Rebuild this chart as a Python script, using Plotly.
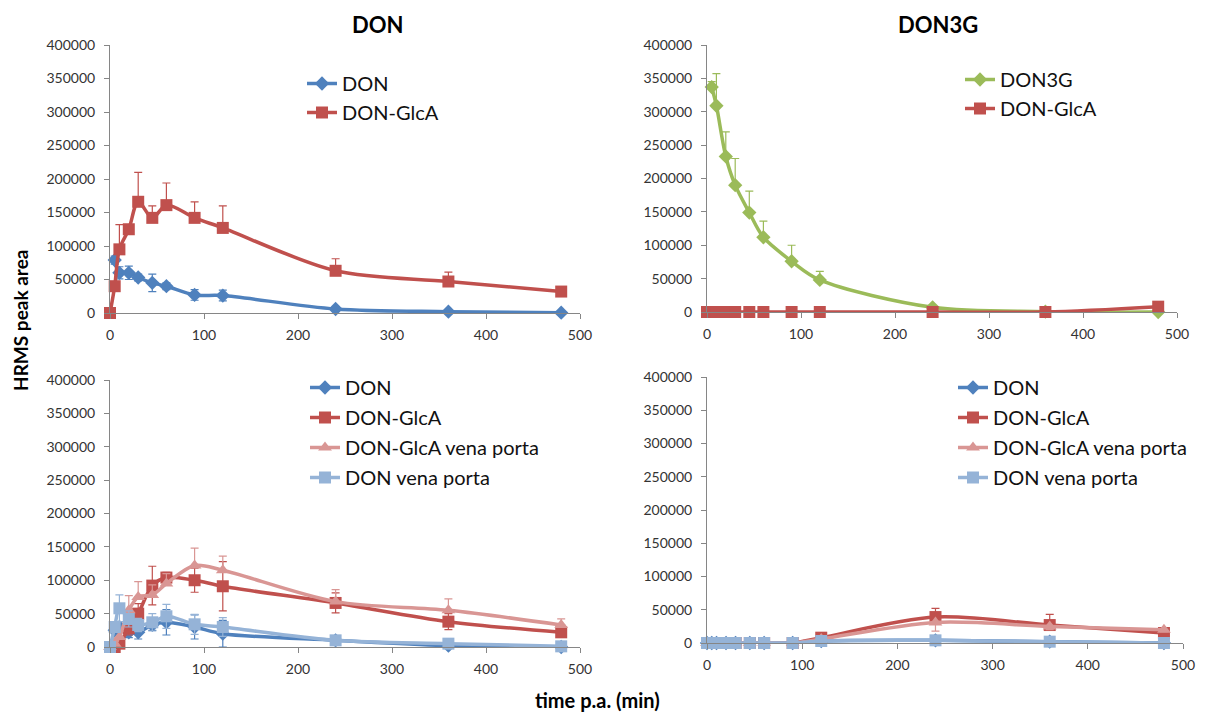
import plotly.graph_objects as go

# page is rendered with an 8px body margin; figure coordinates are offset accordingly
OFF = 8
W, H = 1209 - OFF, 713 - OFF

# ---------------- data ----------------
times = [0, 5, 10, 20, 30, 45, 60, 90, 120, 240, 360, 480]

# Panel 1: DON
don_p1 = [None, 79000, 60000, 60000, 53000, 45000, 40000, 27000, 26000, 6000, 2000, 500]
don_p1_err = [None, 6000, 9000, 10000, 5000, 13000, 5000, 8000, 8000, 2000, 1000, 500]
glca_p1 = [0, 40000, 95000, 125000, 166000, 142000, 161000, 142000, 127000, 63000, 47000, 32000]
glca_p1_err = [0, 5000, 37000, 6000, 44000, 18000, 33000, 24000, 33000, 18000, 14000, 3000]

# Panel 2: DON3G
don3g_p2 = [None, 337000, 309000, 233000, 190000, 149000, 112000, 76000, 48000, 7000, 500, 0]
don3g_p2_err = [None, 8000, 48000, 37000, 40000, 32000, 24000, 24000, 13000, 2000, 0, 0]
glca_p2 = [0, 0, 0, 0, 0, 0, 0, 0, 0, 0, 0, 8000]

# Panel 3
don_p3 = [None, 25000, 30000, 22000, 22000, 33000, 37000, 30000, 20000, 10000, 2000, 0]
don_p3_err = [None, 5000, 5000, 8000, 10000, 8000, 19000, 18000, 20000, 3000, 2000, 0]
glca_p3 = [0, 0, 5000, 28000, 50000, 92000, 104000, 100000, 91000, 66000, 38000, 22000]
glca_p3_err = [0, 0, 3000, 10000, 15000, 29000, 8000, 18000, 37000, 15000, 12000, 5000]
glcavp_p3 = [0, 5000, 15000, 55000, 75000, 78000, 95000, 122000, 115000, 68000, 55000, 33000]
glcavp_p3_err = [0, 3000, 8000, 22000, 23000, 15000, 15000, 26000, 21000, 18000, 17000, 9000]
donvp_p3 = [0, 30000, 58000, 42000, 33000, 37000, 46000, 34000, 30000, 10000, 5000, 1000]
donvp_p3_err = [0, 8000, 20000, 12000, 10000, 13000, 18000, 15000, 14000, 4000, 3000, 1000]

# Panel 4
don_p4 = [0, 0, 0, 0, 0, 0, 0, 0, 3000, 4000, 2000, 0]
glca_p4 = [0, 0, 0, 0, 0, 0, 0, 0, 8000, 39000, 27000, 15000]
glca_p4_err = [0, 0, 0, 0, 0, 0, 0, 0, 3000, 13000, 16000, 4000]
glcavp_p4 = [0, 0, 0, 0, 0, 0, 0, 0, 6000, 31000, 25000, 20000]
glcavp_p4_err = [0, 0, 0, 0, 0, 0, 0, 0, 2000, 13000, 5000, 3000]
donvp_p4 = [0, 0, 0, 0, 0, 0, 0, 0, 3000, 4000, 2000, 0]

x_ticks = [0, 100, 200, 300, 400, 500]
y_ticks = [0, 50000, 100000, 150000, 200000, 250000, 300000, 350000, 400000]

titles = ["DON", "DON3G"]
y_title = "HRMS peak area"
x_title = "time p.a. (min)"

# ---------------- styles ----------------
BLUE = "#4F81BD"
RED = "#C0504D"
GREEN = "#9BBB59"
PINK = "#D99694"
LBLUE = "#95B3D7"
FONT = "Lato"

fig = go.Figure()


def errbar(color, plus=None, minus=None):
    n = len(times)
    return dict(type="data", array=plus if plus is not None else [0] * n,
                arrayminus=minus if minus is not None else [0] * n,
                symmetric=False, color=color, thickness=1.2, width=4, visible=True)


def add(x, y, name, color, symbol, msize, xa, ya, legend, ey=None):
    fig.add_trace(go.Scatter(
        x=x, y=y, name=name, mode="lines+markers",
        line=dict(color=color, width=3.5, shape="spline", smoothing=0.9),
        marker=dict(color=color, symbol=symbol, size=msize),
        error_y=ey, xaxis=xa, yaxis=ya, legend=legend, legendgroup=legend + name,
        cliponaxis=False, connectgaps=True,
    ))


# panel 1
add(times, don_p1, "DON", BLUE, "diamond", 11, "x", "y", "legend", errbar(BLUE, don_p1_err, don_p1_err))
add(times, glca_p1, "DON-GlcA", RED, "square", 12, "x", "y", "legend", errbar(RED, glca_p1_err))
# panel 2
add(times, don3g_p2, "DON3G", GREEN, "diamond", 11, "x2", "y2", "legend2", errbar(GREEN, don3g_p2_err))
add(times, glca_p2, "DON-GlcA", RED, "square", 12, "x2", "y2", "legend2")
# panel 3
add(times, don_p3, "DON", BLUE, "diamond", 11, "x3", "y3", "legend3", errbar(BLUE, don_p3_err, don_p3_err))
add(times, glca_p3, "DON-GlcA", RED, "square", 12, "x3", "y3", "legend3", errbar(RED, glca_p3_err, glca_p3_err))
add(times, glcavp_p3, "DON-GlcA vena porta", PINK, "triangle-up", 12, "x3", "y3", "legend3",
    errbar(PINK, glcavp_p3_err))
add(times, donvp_p3, "DON vena porta", LBLUE, "square", 12, "x3", "y3", "legend3",
    errbar(LBLUE, donvp_p3_err, donvp_p3_err))
# panel 4
add(times, don_p4, "DON", BLUE, "diamond", 11, "x4", "y4", "legend4")
add(times, glca_p4, "DON-GlcA", RED, "square", 12, "x4", "y4", "legend4", errbar(RED, glca_p4_err))
add(times, glcavp_p4, "DON-GlcA vena porta", PINK, "triangle-up", 12, "x4", "y4", "legend4",
    errbar(PINK, None, glcavp_p4_err))
add(times, donvp_p4, "DON vena porta", LBLUE, "square", 12, "x4", "y4", "legend4")


def px(v):
    return (v - OFF) / W


def py(v):
    return 1 - (v - OFF) / H


AXCOL = "#868686"
tickfont = dict(family=FONT, size=14, color="#333333")
common_x = dict(range=[0, 500], tickvals=x_ticks, showgrid=False, zeroline=False, showline=True,
                linecolor=AXCOL, linewidth=1, ticks="outside", ticklen=5, tickcolor=AXCOL,
                tickfont=tickfont, ticklabelstandoff=4, fixedrange=True, automargin=False)
common_y = dict(range=[0, 400000], tickvals=y_ticks, tickformat="d", showgrid=False, zeroline=False,
                showline=True, linecolor=AXCOL, linewidth=1, ticks="outside", ticklen=5,
                tickcolor=AXCOL, tickfont=tickfont, ticklabelstandoff=6, fixedrange=True,
                automargin=False)

doms = {
    "1": ([px(110), px(580)], [py(313), py(45)]),
    "2": ([px(707), px(1177)], [py(312), py(45)]),
    "3": ([px(110), px(580)], [py(647), py(380)]),
    "4": ([px(707), px(1183)], [py(643), py(377)]),
}
for k, (xd, yd) in doms.items():
    s = "" if k == "1" else k
    fig.update_layout(**{
        "xaxis" + s: dict(domain=xd, anchor="y" + s, **common_x),
        "yaxis" + s: dict(domain=yd, anchor="x" + s, **common_y),
    })

legfont = dict(family=FONT, size=20, color="#111111")
leg_common = dict(font=legfont, bgcolor="rgba(0,0,0,0)", borderwidth=0, xanchor="left", yanchor="top",
                  itemwidth=30)
fig.update_layout(
    legend=dict(x=px(302), y=py(64), tracegroupgap=0, **leg_common),
    legend2=dict(x=px(960), y=py(60), tracegroupgap=0, **leg_common),
    legend3=dict(x=px(305), y=py(368), tracegroupgap=1, **leg_common),
    legend4=dict(x=px(953), y=py(368), tracegroupgap=1, **leg_common),
)

annots = [
    dict(text="<b>DON</b>", x=px(377), y=py(24), font=dict(family=FONT, size=22, color="#000")),
    dict(text="<b>DON3G</b>", x=px(938), y=py(24), font=dict(family=FONT, size=22, color="#000")),
    dict(text="<b>" + y_title + "</b>", x=px(20), y=py(321), textangle=-90,
         font=dict(family=FONT, size=19, color="#000")),
    dict(text="<b>" + x_title + "</b>", x=px(597), y=py(700), font=dict(family=FONT, size=20, color="#000")),
]
for a in annots:
    a.update(xref="paper", yref="paper", showarrow=False, xanchor="center", yanchor="middle")
fig.update_layout(annotations=annots)

fig.update_layout(width=W, height=H, margin=dict(l=0, r=0, t=0, b=0, autoexpand=False),
                  paper_bgcolor="white", plot_bgcolor="white", showlegend=True)

fig.write_html("out.html")
